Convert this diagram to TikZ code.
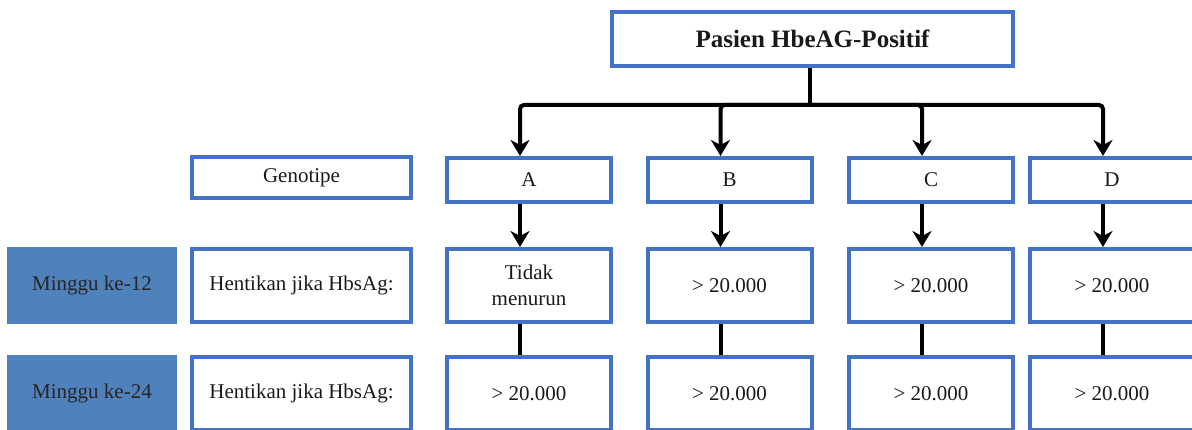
\documentclass[tikz,border=0pt]{standalone}
\usepackage{fontspec}
\setmainfont{Liberation Serif}
\usetikzlibrary{arrows.meta}
\definecolor{boxblue}{RGB}{68,114,196}
\definecolor{fillblue}{RGB}{79,129,189}
\begin{document}
\begin{tikzpicture}[x=1pt, y=1pt, line width=4pt,
    main/.style = {draw=boxblue, line width=4pt, inner sep=2pt, align=center, text=black!90, font=\fontsize{21}{26}\selectfont},
    gene/.style = {main, minimum width=164pt, minimum height=44pt},
    value/.style = {main, minimum width=164pt, minimum height=73pt},
    week/.style = {fill=fillblue, draw=none, minimum width=170pt, minimum height=77pt, text=black!85, font=\fontsize{21}{26}\selectfont},
    arrow/.style = {-{Stealth[length=16pt, width=19pt, inset=5pt]}}]
    \clip (0,0) rectangle (1192,-430);
    \useasboundingbox (0,0) rectangle (1192,-430);
    % top
    \node[main, minimum width=401pt, minimum height=54pt, font=\fontsize{25}{30}\selectfont\bfseries] (1) at (812.5,-39) {Pasien HbeAG-Positif};
    % genotipe row
    \node[main, minimum width=219pt, minimum height=41pt] (2) at (301.5,-177.5) {Genotipe};
    \node[gene] (3) at (529,-180) {A};
    \node[gene] (4) [right of=3, node distance=200.5pt] {B};
    \node[gene] (5) [right of=4, node distance=201.5pt] {C};
    \node[gene] (6) [right of=5, node distance=181pt] {D};
    % minggu ke-12
    \node[week] (7) at (92,-285.5) {Minggu ke-12};
    \node[main, minimum width=219pt, minimum height=73pt] (8) at (301.5,-285.5) {Hentikan jika HbsAg:};
    \node[value] (9) [below of=3, node distance=105.5pt] {Tidak\\menurun};
    \node[value] (10) [below of=4, node distance=105.5pt] {> 20.000};
    \node[value] (11) [below of=5, node distance=105.5pt] {> 20.000};
    \node[value] (12) [below of=6, node distance=105.5pt] {> 20.000};
    % minggu ke-24
    \node[week] (13) [below of=7, node distance=108pt] {Minggu ke-24};
    \node[main, minimum width=219pt, minimum height=73pt] (14) [below of=8, node distance=108pt] {Hentikan jika HbsAg:};
    \node[value] (15) [below of=9, node distance=108pt] {> 20.000};
    \node[value] (16) [below of=10, node distance=108pt] {> 20.000};
    \node[value] (17) [below of=11, node distance=108pt] {> 20.000};
    \node[value] (18) [below of=12, node distance=108pt] {> 20.000};

    \draw ([xshift=-2.5pt]1.south) -- ++(0,-37) coordinate (hub);
    \foreach \n in {3,4,5,6}
        \draw[arrow, rounded corners=4pt] (hub) -| ([xshift=-9pt]\n.north);
    \foreach \a/\b in {3/9, 4/10, 5/11, 6/12}
        \draw[arrow] ([xshift=-9pt]\a.south) -- ([xshift=-9pt]\b.north);
    \foreach \a/\b in {9/15, 10/16, 11/17, 12/18}
        \draw ([xshift=-9pt]\a.south) -- ([xshift=-9pt]\b.north);
\end{tikzpicture}
\end{document}
